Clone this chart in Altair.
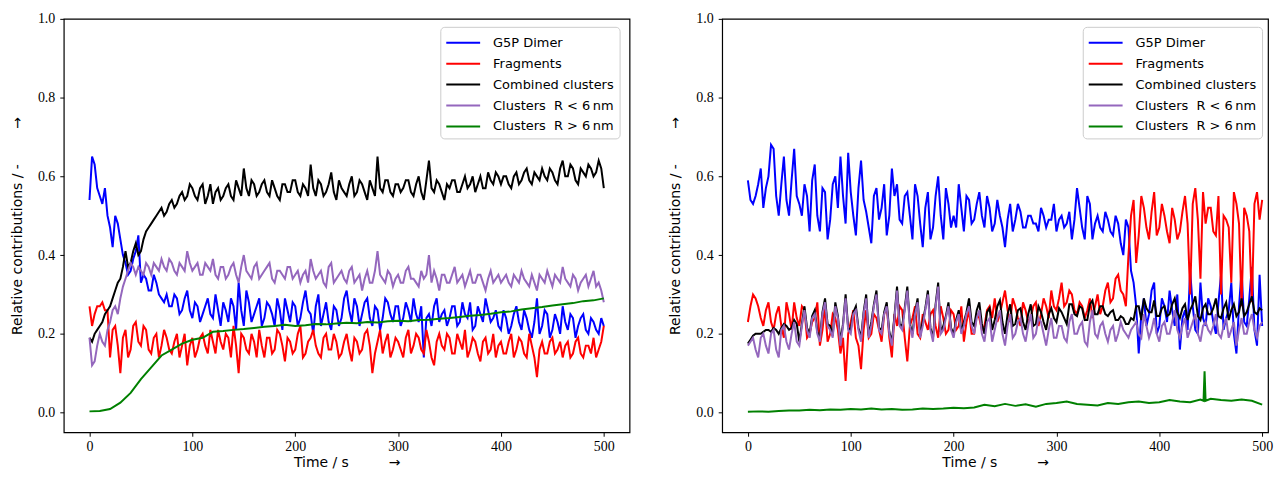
import altair as alt
import pandas as pd

NB = "\u00a0"
SERIES = ["G5P Dimer", "Fragments", "Combined clusters",
          "Clusters" + NB * 2 + "R" + NB + "<" + NB + "6\u2009nm",
          "Clusters" + NB * 2 + "R" + NB + ">" + NB + "6\u2009nm"]
COLORS = ["#0000ff", "#ff0000", "#000000", "#9467bd", "#008000"]

STEP = 5          # s between the main samples; "_mid" lists sit half a step later
GREEN_STEP = 10   # s between samples of the smooth left green trace

# ---------------- left panel ----------------
left_dimer = [
    0.54, 0.63, 0.55, 0.57, 0.47, 0.50, 0.44, 0.38, 0.36, 0.41,
    0.33, 0.34, 0.31, 0.33, 0.29, 0.30, 0.27, 0.29, 0.26, 0.31,
    0.24, 0.27, 0.25, 0.29, 0.24, 0.26, 0.28, 0.23, 0.27, 0.33,
    0.22, 0.28, 0.25, 0.29, 0.24, 0.27, 0.22, 0.26, 0.29, 0.23,
    0.27, 0.24, 0.31, 0.25, 0.27, 0.22, 0.28, 0.21, 0.26, 0.24,
    0.31, 0.23, 0.27, 0.25, 0.29, 0.22, 0.26, 0.24, 0.28, 0.23,
    0.27, 0.24, 0.26, 0.29, 0.23, 0.14, 0.25, 0.27, 0.23, 0.26,
    0.24, 0.27, 0.23, 0.25, 0.28, 0.22, 0.25, 0.29, 0.23, 0.26,
    0.21, 0.24, 0.22, 0.27, 0.21, 0.24, 0.19, 0.29, 0.22, 0.25,
    0.21, 0.23, 0.27, 0.21, 0.24, 0.22, 0.25, 0.20, 0.23, 0.20,
    0.22]
left_dimer_mid = [
    0.65, 0.57, 0.53, 0.50, 0.42, 0.48, 0.40, 0.35, 0.39, 0.45,
    0.35, 0.31, 0.35, 0.30, 0.28, 0.27, 0.30, 0.25, 0.29, 0.26,
    0.28, 0.23, 0.27, 0.25, 0.30, 0.22, 0.26, 0.29, 0.21, 0.26,
    0.31, 0.23, 0.27, 0.22, 0.28, 0.25, 0.29, 0.21, 0.26, 0.28,
    0.22, 0.28, 0.26, 0.20, 0.30, 0.25, 0.23, 0.27, 0.22, 0.29,
    0.26, 0.29, 0.22, 0.28, 0.24, 0.27, 0.21, 0.29, 0.25, 0.27,
    0.22, 0.28, 0.23, 0.25, 0.27, 0.24, 0.22, 0.29, 0.25, 0.22,
    0.27, 0.22, 0.28, 0.24, 0.21, 0.27, 0.23, 0.26, 0.24, 0.22,
    0.26, 0.20, 0.25, 0.23, 0.26, 0.21, 0.23, 0.20, 0.26, 0.19,
    0.25, 0.20, 0.23, 0.25, 0.19, 0.24, 0.21, 0.24, 0.21, 0.24]
left_fragments = [
    0.27, 0.25, 0.27, 0.26, 0.14, 0.22, 0.10, 0.21, 0.16, 0.23,
    0.17, 0.21, 0.15, 0.20, 0.17, 0.19, 0.15, 0.20, 0.17, 0.12,
    0.19, 0.16, 0.20, 0.15, 0.18, 0.21, 0.16, 0.19, 0.22, 0.10,
    0.19, 0.15, 0.18, 0.21, 0.14, 0.19, 0.16, 0.20, 0.13, 0.18,
    0.16, 0.22, 0.15, 0.19, 0.17, 0.14, 0.20, 0.16, 0.18, 0.15,
    0.20, 0.13, 0.18, 0.16, 0.21, 0.10, 0.18, 0.15, 0.20, 0.16,
    0.18, 0.14, 0.21, 0.17, 0.19, 0.15, 0.18, 0.12, 0.20, 0.16,
    0.19, 0.15, 0.18, 0.21, 0.16, 0.18, 0.13, 0.19, 0.16, 0.14,
    0.18, 0.15, 0.20, 0.16, 0.18, 0.14, 0.17, 0.09, 0.18, 0.15,
    0.19, 0.16, 0.14, 0.18, 0.15, 0.19, 0.14, 0.17, 0.19, 0.16,
    0.22]
left_fragments_mid = [
    0.22, 0.27, 0.28, 0.26, 0.21, 0.17, 0.19, 0.14, 0.22, 0.18,
    0.22, 0.16, 0.19, 0.14, 0.21, 0.16, 0.18, 0.14, 0.20, 0.17,
    0.14, 0.19, 0.17, 0.21, 0.15, 0.18, 0.20, 0.14, 0.17, 0.20,
    0.16, 0.20, 0.14, 0.17, 0.19, 0.15, 0.21, 0.17, 0.19, 0.15,
    0.20, 0.14, 0.18, 0.21, 0.15, 0.19, 0.16, 0.20, 0.14, 0.18,
    0.16, 0.19, 0.15, 0.20, 0.17, 0.15, 0.21, 0.18, 0.14, 0.19,
    0.16, 0.19, 0.15, 0.20, 0.16, 0.21, 0.14, 0.18, 0.17, 0.20,
    0.15, 0.20, 0.16, 0.14, 0.19, 0.15, 0.18, 0.15, 0.20, 0.17,
    0.15, 0.18, 0.14, 0.19, 0.15, 0.20, 0.14, 0.16, 0.15, 0.18,
    0.15, 0.18, 0.17, 0.14, 0.18, 0.15, 0.17, 0.15, 0.14, 0.18]
left_combined = [
    0.19, 0.20, 0.22, 0.25, 0.27, 0.31, 0.34, 0.41, 0.38, 0.43,
    0.41, 0.46, 0.48, 0.50, 0.52, 0.51, 0.54, 0.53, 0.56, 0.55,
    0.57, 0.54, 0.58, 0.55, 0.53, 0.57, 0.55, 0.58, 0.54, 0.57,
    0.62, 0.55, 0.58, 0.56, 0.59, 0.55, 0.57, 0.54, 0.58, 0.56,
    0.59, 0.55, 0.57, 0.63, 0.55, 0.58, 0.56, 0.61, 0.54, 0.57,
    0.55, 0.60, 0.56, 0.58, 0.54, 0.57, 0.65, 0.56, 0.59, 0.55,
    0.58, 0.57, 0.59, 0.55, 0.60, 0.54, 0.64, 0.56, 0.58, 0.54,
    0.57, 0.59, 0.56, 0.60, 0.58, 0.56, 0.60, 0.57, 0.59, 0.61,
    0.58, 0.60, 0.57, 0.61, 0.59, 0.62, 0.58, 0.60, 0.62, 0.59,
    0.61, 0.58, 0.64, 0.60, 0.62, 0.58, 0.61, 0.63, 0.60, 0.64,
    0.57]
left_combined_mid = [
    0.18, 0.21, 0.23, 0.26, 0.29, 0.33, 0.37, 0.37, 0.41, 0.40,
    0.44, 0.47, 0.49, 0.51, 0.50, 0.53, 0.52, 0.55, 0.54, 0.58,
    0.55, 0.57, 0.53, 0.58, 0.56, 0.54, 0.57, 0.55, 0.59, 0.55,
    0.57, 0.59, 0.55, 0.58, 0.56, 0.59, 0.55, 0.58, 0.56, 0.59,
    0.56, 0.58, 0.55, 0.57, 0.59, 0.55, 0.58, 0.56, 0.59, 0.56,
    0.58, 0.55, 0.59, 0.56, 0.59, 0.55, 0.57, 0.59, 0.56, 0.58,
    0.56, 0.59, 0.56, 0.58, 0.56, 0.59, 0.57, 0.59, 0.56, 0.58,
    0.59, 0.56, 0.58, 0.57, 0.60, 0.58, 0.57, 0.61, 0.58, 0.60,
    0.60, 0.58, 0.60, 0.58, 0.61, 0.59, 0.61, 0.59, 0.60, 0.62,
    0.59, 0.62, 0.60, 0.63, 0.59, 0.62, 0.60, 0.62, 0.61, 0.62]
left_small = [
    0.19, 0.13, 0.20, 0.17, 0.23, 0.27, 0.29, 0.34, 0.38, 0.35,
    0.36, 0.38, 0.35, 0.37, 0.39, 0.36, 0.38, 0.35, 0.37, 0.41,
    0.36, 0.38, 0.35, 0.37, 0.39, 0.34, 0.37, 0.35, 0.38, 0.33,
    0.40, 0.35, 0.37, 0.34, 0.36, 0.38, 0.33, 0.36, 0.34, 0.37,
    0.35, 0.33, 0.36, 0.39, 0.34, 0.36, 0.32, 0.38, 0.34, 0.36,
    0.33, 0.37, 0.34, 0.31, 0.36, 0.33, 0.41, 0.34, 0.36, 0.32,
    0.35, 0.33, 0.37, 0.34, 0.32, 0.34, 0.40, 0.36, 0.31, 0.35,
    0.33, 0.37, 0.34, 0.32, 0.36, 0.33, 0.35, 0.31, 0.36, 0.34,
    0.33, 0.35, 0.32, 0.34, 0.36, 0.33, 0.35, 0.31, 0.34, 0.36,
    0.32, 0.34, 0.37, 0.33, 0.35, 0.31, 0.34, 0.32, 0.36, 0.33,
    0.28]
left_small_mid = [
    0.12, 0.17, 0.18, 0.21, 0.26, 0.25, 0.32, 0.36, 0.37, 0.37,
    0.35, 0.37, 0.38, 0.36, 0.37, 0.39, 0.36, 0.38, 0.36, 0.38,
    0.37, 0.35, 0.38, 0.36, 0.35, 0.37, 0.34, 0.37, 0.35, 0.37,
    0.36, 0.34, 0.38, 0.35, 0.37, 0.34, 0.36, 0.35, 0.37, 0.34,
    0.36, 0.35, 0.33, 0.36, 0.35, 0.33, 0.37, 0.33, 0.35, 0.34,
    0.36, 0.33, 0.35, 0.34, 0.33, 0.36, 0.35, 0.33, 0.35, 0.34,
    0.33, 0.36, 0.34, 0.33, 0.36, 0.35, 0.33, 0.34, 0.35, 0.33,
    0.35, 0.33, 0.35, 0.34, 0.33, 0.35, 0.33, 0.34, 0.33, 0.35,
    0.34, 0.33, 0.35, 0.33, 0.34, 0.32, 0.33, 0.35, 0.33, 0.34,
    0.35, 0.33, 0.34, 0.32, 0.34, 0.33, 0.35, 0.34, 0.32, 0.31]
left_large = [
    0.003, 0.004, 0.009, 0.025, 0.05, 0.085, 0.115, 0.145, 0.16, 0.175,
    0.185, 0.19, 0.205, 0.207, 0.21, 0.212, 0.215, 0.218, 0.22, 0.223,
    0.22, 0.222, 0.225, 0.224, 0.226, 0.228, 0.227, 0.23, 0.229, 0.232,
    0.233, 0.232, 0.235, 0.236, 0.238, 0.24, 0.243, 0.246, 0.248, 0.251,
    0.255, 0.257, 0.262, 0.265, 0.268, 0.272, 0.275, 0.278, 0.283, 0.285,
    0.29]

# ---------------- right panel ----------------
right_dimer = [
    0.59, 0.53, 0.58, 0.52, 0.60, 0.67, 0.50, 0.65, 0.50, 0.67,
    0.53, 0.58, 0.46, 0.63, 0.46, 0.56, 0.49, 0.60, 0.65, 0.48,
    0.56, 0.45, 0.64, 0.51, 0.43, 0.57, 0.52, 0.45, 0.62, 0.58,
    0.48, 0.56, 0.44, 0.55, 0.42, 0.56, 0.47, 0.60, 0.44, 0.53,
    0.50, 0.58, 0.46, 0.54, 0.49, 0.56, 0.47, 0.52, 0.48, 0.50,
    0.42, 0.53, 0.49, 0.51, 0.47, 0.50, 0.48, 0.52, 0.47, 0.49,
    0.46, 0.50, 0.48, 0.44, 0.57, 0.47, 0.55, 0.44, 0.50, 0.46,
    0.49, 0.45, 0.48, 0.40, 0.47, 0.33, 0.15, 0.29, 0.25, 0.33,
    0.22, 0.27, 0.31, 0.22, 0.16, 0.26, 0.36, 0.21, 0.33, 0.22,
    0.27, 0.20, 0.35, 0.24, 0.33, 0.15, 0.36, 0.22, 0.37, 0.17,
    0.22]
right_dimer_mid = [
    0.54, 0.55, 0.62, 0.57, 0.68, 0.55, 0.58, 0.54, 0.59, 0.55,
    0.50, 0.55, 0.59, 0.50, 0.57, 0.44, 0.58, 0.52, 0.55, 0.66,
    0.50, 0.57, 0.54, 0.47, 0.55, 0.49, 0.58, 0.50, 0.55, 0.49,
    0.55, 0.50, 0.58, 0.48, 0.52, 0.44, 0.55, 0.50, 0.57, 0.47,
    0.47, 0.52, 0.55, 0.48, 0.53, 0.50, 0.55, 0.46, 0.54, 0.47,
    0.49, 0.46, 0.53, 0.47, 0.50, 0.48, 0.46, 0.50, 0.49, 0.53,
    0.49, 0.47, 0.51, 0.49, 0.52, 0.44, 0.53, 0.48, 0.47, 0.51,
    0.46, 0.50, 0.43, 0.49, 0.36, 0.27, 0.25, 0.22, 0.31, 0.20,
    0.29, 0.23, 0.26, 0.30, 0.24, 0.21, 0.27, 0.20, 0.24, 0.29,
    0.23, 0.28, 0.21, 0.26, 0.20, 0.27, 0.23, 0.29, 0.21, 0.35]
right_fragments = [
    0.23, 0.30, 0.27, 0.22, 0.28, 0.21, 0.27, 0.19, 0.25, 0.28,
    0.22, 0.26, 0.20, 0.24, 0.17, 0.27, 0.20, 0.24, 0.15, 0.08,
    0.23, 0.19, 0.11, 0.26, 0.20, 0.24, 0.18, 0.27, 0.14, 0.22,
    0.26, 0.13, 0.24, 0.20, 0.25, 0.21, 0.26, 0.19, 0.24, 0.21,
    0.25, 0.22, 0.18, 0.26, 0.20, 0.24, 0.22, 0.27, 0.29, 0.25,
    0.31, 0.23, 0.27, 0.22, 0.26, 0.24, 0.28, 0.25, 0.27, 0.31,
    0.26, 0.33, 0.28, 0.30, 0.25, 0.27, 0.26, 0.24, 0.30, 0.27,
    0.33, 0.29, 0.35, 0.30, 0.40, 0.54, 0.45, 0.52, 0.44, 0.56,
    0.47, 0.50, 0.43, 0.49, 0.46, 0.55, 0.30, 0.57, 0.34, 0.48,
    0.52, 0.45, 0.30, 0.49, 0.33, 0.53, 0.27, 0.50, 0.28, 0.56,
    0.54]
right_fragments_mid = [
    0.27, 0.29, 0.24, 0.26, 0.23, 0.25, 0.22, 0.28, 0.21, 0.24,
    0.27, 0.19, 0.23, 0.28, 0.21, 0.18, 0.25, 0.21, 0.19, 0.20,
    0.26, 0.17, 0.21, 0.19, 0.25, 0.21, 0.25, 0.19, 0.25, 0.27,
    0.19, 0.22, 0.27, 0.19, 0.23, 0.25, 0.22, 0.27, 0.20, 0.26,
    0.21, 0.27, 0.23, 0.20, 0.25, 0.21, 0.26, 0.24, 0.23, 0.28,
    0.26, 0.29, 0.24, 0.28, 0.23, 0.27, 0.22, 0.29, 0.24, 0.27,
    0.29, 0.27, 0.31, 0.26, 0.28, 0.24, 0.29, 0.27, 0.25, 0.31,
    0.28, 0.34, 0.31, 0.27, 0.50, 0.38, 0.55, 0.47, 0.51, 0.45,
    0.53, 0.46, 0.52, 0.44, 0.51, 0.48, 0.53, 0.49, 0.56, 0.52,
    0.46, 0.55, 0.50, 0.47, 0.56, 0.48, 0.52, 0.46, 0.53, 0.49]
right_combined = [
    0.175, 0.195, 0.20, 0.205, 0.21, 0.215, 0.20, 0.225, 0.21, 0.235,
    0.18, 0.27, 0.20, 0.26, 0.19, 0.29, 0.22, 0.28, 0.18, 0.30,
    0.21, 0.27, 0.19, 0.30, 0.23, 0.31, 0.21, 0.28, 0.18, 0.32,
    0.22, 0.32, 0.20, 0.29, 0.23, 0.31, 0.19, 0.33, 0.22, 0.28,
    0.20, 0.26, 0.23, 0.29, 0.22, 0.28, 0.20, 0.265, 0.235, 0.285,
    0.20, 0.275, 0.225, 0.265, 0.21, 0.275, 0.225, 0.255, 0.21, 0.265,
    0.23, 0.255, 0.225, 0.275, 0.245, 0.265, 0.235, 0.285, 0.25, 0.27,
    0.245, 0.26, 0.235, 0.24, 0.225, 0.235, 0.27, 0.29, 0.255, 0.285,
    0.245, 0.27, 0.25, 0.29, 0.24, 0.275, 0.26, 0.295, 0.235, 0.275,
    0.25, 0.29, 0.24, 0.28, 0.26, 0.245, 0.29, 0.255, 0.295, 0.25,
    0.26]
right_combined_mid = [
    0.185, 0.20, 0.20, 0.21, 0.205, 0.21, 0.215, 0.22, 0.215, 0.225,
    0.225, 0.215, 0.245, 0.205, 0.255, 0.225, 0.195, 0.245, 0.225, 0.215,
    0.255, 0.215, 0.255, 0.195, 0.275, 0.215, 0.255, 0.205, 0.245, 0.225,
    0.265, 0.225, 0.255, 0.195, 0.265, 0.215, 0.275, 0.205, 0.245, 0.215,
    0.235, 0.205, 0.255, 0.23, 0.26, 0.225, 0.255, 0.21, 0.27, 0.23,
    0.25, 0.22, 0.26, 0.23, 0.25, 0.22, 0.27, 0.23, 0.25, 0.24,
    0.265, 0.24, 0.275, 0.25, 0.27, 0.235, 0.275, 0.25, 0.27, 0.25,
    0.255, 0.235, 0.245, 0.225, 0.24, 0.27, 0.235, 0.265, 0.255, 0.245,
    0.265, 0.245, 0.275, 0.255, 0.265, 0.235, 0.275, 0.245, 0.265, 0.25,
    0.265, 0.245, 0.265, 0.235, 0.275, 0.255, 0.245, 0.275, 0.255, 0.265]
right_small = [
    0.17, 0.19, 0.14, 0.20, 0.15, 0.21, 0.14, 0.22, 0.16, 0.23,
    0.17, 0.26, 0.19, 0.25, 0.18, 0.28, 0.21, 0.27, 0.17, 0.29,
    0.20, 0.26, 0.18, 0.29, 0.22, 0.30, 0.20, 0.27, 0.17, 0.31,
    0.21, 0.31, 0.19, 0.28, 0.22, 0.30, 0.18, 0.32, 0.21, 0.27,
    0.19, 0.25, 0.22, 0.27, 0.20, 0.26, 0.18, 0.24, 0.21, 0.26,
    0.17, 0.25, 0.20, 0.24, 0.18, 0.25, 0.20, 0.23, 0.17, 0.24,
    0.19, 0.22, 0.18, 0.25, 0.20, 0.23, 0.17, 0.26, 0.19, 0.23,
    0.18, 0.22, 0.20, 0.21, 0.19, 0.22, 0.20, 0.25, 0.19, 0.24,
    0.18, 0.23, 0.20, 0.26, 0.19, 0.24, 0.21, 0.25, 0.18, 0.23,
    0.20, 0.25, 0.19, 0.24, 0.21, 0.17, 0.24, 0.20, 0.25, 0.19,
    0.23]
right_small_mid = [
    0.18, 0.16, 0.19, 0.17, 0.20, 0.16, 0.21, 0.18, 0.20, 0.18,
    0.22, 0.21, 0.24, 0.20, 0.25, 0.22, 0.19, 0.24, 0.22, 0.21,
    0.25, 0.21, 0.25, 0.19, 0.27, 0.21, 0.25, 0.20, 0.24, 0.22,
    0.26, 0.22, 0.25, 0.19, 0.26, 0.21, 0.27, 0.20, 0.24, 0.21,
    0.23, 0.20, 0.25, 0.22, 0.24, 0.20, 0.23, 0.18, 0.24, 0.20,
    0.22, 0.19, 0.23, 0.20, 0.22, 0.19, 0.24, 0.20, 0.21, 0.19,
    0.22, 0.19, 0.23, 0.20, 0.22, 0.18, 0.23, 0.20, 0.22, 0.20,
    0.21, 0.18, 0.23, 0.20, 0.21, 0.23, 0.19, 0.22, 0.21, 0.20,
    0.22, 0.20, 0.23, 0.21, 0.22, 0.19, 0.23, 0.20, 0.22, 0.21,
    0.22, 0.20, 0.22, 0.19, 0.23, 0.21, 0.20, 0.23, 0.21, 0.22]
right_large_time = list(range(0, 441, 10)) + [443, 444, 445] + list(range(450, 501, 10))
right_large = [
    0.002, 0.003, 0.002, 0.004, 0.005, 0.005, 0.007, 0.006, 0.008, 0.007,
    0.009, 0.008, 0.010, 0.008, 0.009, 0.007, 0.008, 0.010, 0.009, 0.010,
    0.012, 0.011, 0.013, 0.020, 0.016, 0.022, 0.017, 0.021, 0.015, 0.022,
    0.024, 0.028, 0.022, 0.020, 0.018, 0.024, 0.022, 0.026, 0.028, 0.024,
    0.026, 0.032, 0.028, 0.026, 0.033,
    0.030, 0.105, 0.030,
    0.035, 0.032, 0.030, 0.033, 0.030, 0.020]

X_TICKS = [0, 100, 200, 300, 400, 500]
Y_TICKS = [0.0, 0.2, 0.4, 0.6, 0.8, 1.0]
X_TITLE = "Time / s" + NB * 9 + "\u2192"
Y_TITLE = "Relative contributions / -" + NB * 8 + "\u2192"


def frame(name, values, mid=None, times=None, step=STEP):
    if times is None:
        times = [i * step for i in range(len(values))]
    t, v = list(times), list(values)
    if mid is not None:
        t += [i * step + step / 2 for i in range(len(mid))]
        v += list(mid)
    return pd.DataFrame({"t": t, "v": v, "series": name}).sort_values("t")


def panel(frames, width, xmax, legend_pos):
    x = alt.X("t:Q", scale=alt.Scale(domain=[-25, xmax], nice=False, zero=False),
              axis=alt.Axis(values=X_TICKS, title=X_TITLE, format="d"))
    y = alt.Y("v:Q", scale=alt.Scale(domain=[-0.05, 1.0], nice=False, zero=False),
              axis=alt.Axis(values=Y_TICKS, title=Y_TITLE, format=".1f"))
    color = alt.Color("series:N", sort=SERIES,
                      scale=alt.Scale(domain=SERIES, range=COLORS),
                      legend=alt.Legend(title=None, orient="none",
                                        legendX=legend_pos[0], legendY=legend_pos[1],
                                        fillColor="white", strokeColor="#cccccc",
                                        cornerRadius=4, padding=5,
                                        symbolType="M-1,0H2.4", symbolSize=400,
                                        symbolStrokeWidth=2, symbolOpacity=1,
                                        labelFont="DejaVu Sans", labelFontSize=13,
                                        labelColor="black", labelOffset=26,
                                        rowPadding=3, labelLimit=300))
    layers = [alt.Chart(df).mark_line(strokeWidth=2, clip=True).encode(x=x, y=y, color=color)
              for df in frames]
    return alt.layer(*layers).properties(width=width, height=415)


left = panel([
    frame(SERIES[0], left_dimer, left_dimer_mid),
    frame(SERIES[1], left_fragments, left_fragments_mid),
    frame(SERIES[2], left_combined, left_combined_mid),
    frame(SERIES[3], left_small, left_small_mid),
    frame(SERIES[4], left_large, step=GREEN_STEP),
], 568, 525, (378, 8))

right = panel([
    frame(SERIES[0], right_dimer, right_dimer_mid),
    frame(SERIES[1], right_fragments, right_fragments_mid),
    frame(SERIES[2], right_combined, right_combined_mid),
    frame(SERIES[3], right_small, right_small_mid),
    frame(SERIES[4], right_large, times=right_large_time),
], 548, 505.7, (362, 8))

chart = (
    alt.hconcat(left, right, spacing=37)
    .resolve_scale(color="independent")
    .resolve_legend(color="independent")
    .properties(padding={"left": 1, "top": 2, "right": 0, "bottom": 0})
    .configure_view(stroke="black", strokeWidth=1.2)
    .configure_axis(grid=False, domain=False, ticks=True, tickColor="black",
                    tickSize=4, tickWidth=1, labelFont="Liberation Serif",
                    labelFontSize=14, labelColor="black", labelPadding=3,
                    titleFont="DejaVu Sans", titleFontSize=14,
                    titleFontWeight="normal", titleColor="black")
    .configure_axisY(titlePadding=13, labelPadding=5)
    .configure_axisX(titlePadding=2)
)

chart.save("out.html", embed_options={"renderer": "svg", "actions": False})
